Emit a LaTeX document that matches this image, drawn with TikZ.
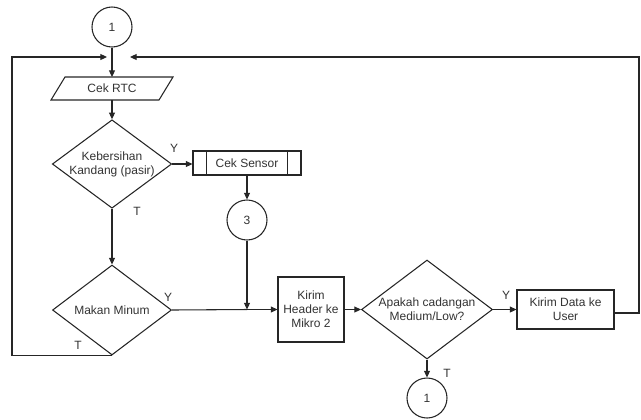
\documentclass[tikz,border=0pt]{standalone}
\usepackage{fontspec}
\setmainfont{Liberation Sans}
\usetikzlibrary{shapes.geometric,arrows.meta,calc}
\begin{document}
\begin{tikzpicture}[x=0.75pt,y=-0.75pt,
  every node/.style={font=\fontsize{9pt}{10.5pt}\selectfont, text=black!80},
  line/.style={draw=black!85, line width=0.8pt},
  arr/.style={line, -{Triangle[length=5pt,width=4.5pt]}},
  conn/.style={circle, draw=black!85, line width=0.8pt, minimum size=30pt, inner sep=0pt},
  proc/.style={rectangle, draw=black!85, line width=0.8pt, align=center, inner sep=0pt},
  dec/.style={diamond, draw=black!85, line width=0.8pt, align=center, inner sep=0pt},
  lbl/.style={inner sep=0pt}
]
\useasboundingbox (0,0) rectangle (641,419);

% nodes
\node[conn] (c1top) at (112,27) {1};
\node[rectangle, inner sep=0pt, outer sep=0pt, minimum width=81pt, minimum height=17.25pt] (rtc) at (112,88.5) {Cek RTC};
\draw[line] ($(rtc.south west)+(-7,0)$) -- ($(rtc.south east)+(-7,0)$) -- ($(rtc.north east)+(7,0)$) -- ($(rtc.north west)+(7,0)$) -- cycle;
\node[dec, shape aspect=1.35, minimum width=89.25pt, minimum height=66pt] (d1) at (112,164) {Kebersihan\\Kandang (pasir)};
\node[proc, minimum width=81pt, minimum height=18pt] (cs) at (247,163) {Cek Sensor};
\draw[line] ($(cs.north west)+(14,0)$) -- ($(cs.south west)+(14,0)$);
\draw[line] ($(cs.north east)+(-14,0)$) -- ($(cs.south east)+(-14,0)$);
\node[conn] (c3) at (247,220) {3};
\node[dec, shape aspect=1.32, minimum width=89.25pt, minimum height=67.5pt] (d2) at (112,310) {Makan Minum};
\node[proc, minimum width=49.5pt, minimum height=48.75pt] (kh) at (311,309.5) {Kirim\\Header ke\\Mikro 2};
\node[dec, shape aspect=1.32, minimum width=98.25pt, minimum height=74.25pt] (d3) at (427,309.5) {Apakah cadangan\\Medium/Low?};
\node[proc, minimum width=72.75pt, minimum height=29.25pt] (kd) at (565.5,309.5) {Kirim Data ke\\User};
\node[conn] (c1bot) at (427,398) {1};

% helper coordinates
\coordinate (j) at (247,309.5);
\coordinate (lt) at (12,57);
\coordinate (ltip) at (107,57);
\coordinate (rt) at (639,57);
\coordinate (rtip) at (130,57);

% connectors
\draw[arr] (c1top) -- (rtc);
\draw[arr] (rtc) -- (d1);
\draw[arr] (d1.east) -- (d1.east -| cs.west);
\draw[arr] (cs) -- (c3);
\draw[arr] (d1) -- (d2);
\draw[line] (d2.east) -- (j);
\draw[arr] (j) -- (j -| kh.west);
\draw[arr] (c3) -- (j);
\draw[arr] (kh) -- (d3);
\draw[arr] (d3) -- (kd);
\draw[arr] (d3) -- (c1bot);
\draw[arr] (d2.south) -- (d2.south -| lt) -- (lt) -- (ltip);
\draw[arr] ($(kd.east)+(0,3.5)$) -| (rt) -- (rtip);

% labels
\node[lbl] (y1) at (174,148) {Y};
\node[lbl] (t1) at (137,211) {T};
\node[lbl] (y2) at (168,297) {Y};
\node[lbl] (t2) at (78,345) {T};
\node[lbl] (y3) at (506,295) {Y};
\node[lbl] (t3) at (447,373) {T};
\end{tikzpicture}
\end{document}
